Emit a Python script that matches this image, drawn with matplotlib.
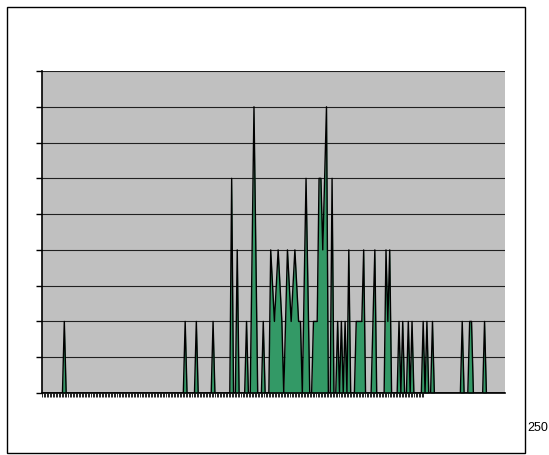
import numpy as np
import matplotlib
matplotlib.use("Agg")
import matplotlib.pyplot as plt
from matplotlib.patches import Rectangle

# number of categories on the x axis
N_POINTS = 250
# nonzero points: category index and value (everything else is 0)
peak_idx = [12, 77, 83, 92,
            102, 105, 110, 113, 114, 115, 119,
            123, 124, 125, 126, 127, 128, 129, 131, 132, 133, 134, 135, 136,
            137, 138, 139, 141, 142, 143, 146, 147, 148, 149, 150, 151, 152,
            153, 156, 159, 161, 163, 165, 169, 170, 171, 172, 173,
            178, 179, 185, 186, 187, 192, 194, 197, 199,
            205, 207, 210, 226, 230, 231, 238]
peak_val = [2, 2, 2, 2,
            6, 4, 2, 4, 8, 4, 2,
            4, 3, 2, 3, 4, 3, 2, 2, 4, 3, 2, 3, 4,
            3, 2, 2, 3, 6, 3, 2, 2, 2, 6, 6, 4, 6,
            8, 6, 2, 2, 2, 4, 2, 2, 2, 2, 4,
            2, 4, 4, 2, 4, 2, 2, 2, 2,
            2, 2, 2, 2, 2, 2, 2]
y_levels = list(range(0, 10))
corner_label = "250"


def build_series():
    values = np.zeros(N_POINTS)
    values[peak_idx] = peak_val
    return np.arange(N_POINTS), values


def plot_area(x, values):
    fig = plt.figure(figsize=(5.49, 4.55), dpi=100)
    fig.patch.set_facecolor("white")

    # outer chart border
    fig.patches.append(Rectangle((7 / 549, 2 / 455), 518 / 549, 446 / 455,
                                 transform=fig.transFigure, fill=False,
                                 edgecolor="black", lw=1.0))

    ax = fig.add_axes([42 / 549, 62 / 455, 463 / 549, 322 / 455])
    ax.set_facecolor("#c0c0c0")

    ax.fill_between(x, values, 0, color="#339966", lw=0, zorder=2)
    ax.plot(x, values, color="black", lw=1.0, zorder=3)

    ax.set_xlim(0, N_POINTS - 1)
    ax.set_ylim(0, 9)

    ax.set_yticks(y_levels)
    ax.set_yticklabels([])
    ax.yaxis.grid(True, color="#202020", lw=0.8)
    ax.set_axisbelow(True)
    ax.tick_params(axis="y", length=4, width=1, direction="out", color="black")

    ax.set_xticks(np.linspace(0, 205, N_POINTS))
    ax.set_xticklabels([])
    ax.tick_params(axis="x", length=3, width=0.6, direction="out", color="black")

    for side in ["top", "right"]:
        ax.spines[side].set_visible(False)
    for side in ["left", "bottom"]:
        ax.spines[side].set_color("black")
        ax.spines[side].set_linewidth(1.2)
        ax.spines[side].set_zorder(4)

    fig.text(527 / 549, 1 - 428 / 455, corner_label, fontsize=9,
             ha="left", va="center", family="Liberation Sans")

    fig.savefig("out.png", dpi=100)


def main():
    x, values = build_series()
    plot_area(x, values)


if __name__ == "__main__":
    main()
